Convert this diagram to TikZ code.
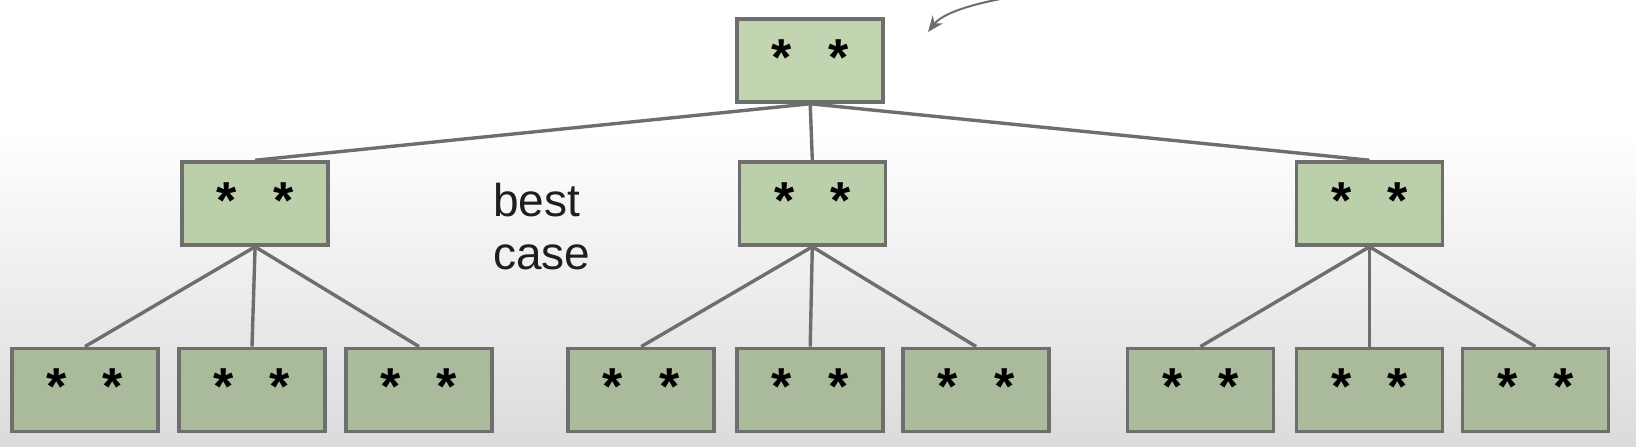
\documentclass[tikz,border=0pt]{standalone}
\usepackage{fontspec}
\setmainfont{Liberation Sans}
\usetikzlibrary{arrows.meta}
\definecolor{bgbot}{HTML}{DBDBDB}
\definecolor{edgegray}{HTML}{6E6E6E}
\definecolor{toptone}{HTML}{C2D5B0}
\definecolor{midtone}{HTML}{BCCFAB}
\definecolor{lowtone}{HTML}{AABB9B}
\definecolor{labelgray}{HTML}{1E1E1E}
\begin{document}
\begin{tikzpicture}[x=0.5pt,y=-0.5pt,
  keybox/.style={draw=edgegray, line width=1.75pt, minimum width=73pt, minimum height=41.5pt,
    inner sep=0pt, font=\fontsize{26}{26}\selectfont\bfseries, text height=14.5pt, text depth=0pt},
  link/.style={draw=edgegray, line width=1.7pt},
  pointer/.style={draw=edgegray, line width=1pt, -{Stealth[length=8pt,width=6.5pt]}}]
\useasboundingbox (0,0) rectangle (1636,446);
\fill[white] (0,0) rectangle (1636,446);
\shade[top color=white, bottom color=bgbot] (0,130) rectangle (1636,446);
% root
\node[keybox, fill=toptone] (root) at (810.2,60.5) {*\hspace{18pt}*};
% level 2
\node[keybox, fill=midtone] (m1) at (255.1,203.5) {*\hspace{18pt}*};
\node[keybox, fill=midtone] (m2) at (812.3,203.5) {*\hspace{18pt}*};
\node[keybox, fill=midtone] (m3) at (1369.5,203.5) {*\hspace{18pt}*};
% level 3
\node[keybox, fill=lowtone] (l1) at (85,389.8) {*\hspace{18pt}*};
\node[keybox, fill=lowtone] (l2) at (252,389.8) {*\hspace{18pt}*};
\node[keybox, fill=lowtone] (l3) at (419,389.8) {*\hspace{18pt}*};
\node[keybox, fill=lowtone] (l4) at (641.2,389.8) {*\hspace{18pt}*};
\node[keybox, fill=lowtone] (l5) at (810.2,389.8) {*\hspace{18pt}*};
\node[keybox, fill=lowtone] (l6) at (976.1,389.8) {*\hspace{18pt}*};
\node[keybox, fill=lowtone] (l7) at (1200.4,389.8) {*\hspace{18pt}*};
\node[keybox, fill=lowtone] (l8) at (1369.5,389.8) {*\hspace{18pt}*};
\node[keybox, fill=lowtone] (l9) at (1535.4,389.8) {*\hspace{18pt}*};
% connectors
\draw[link] (root.south) -- (m1.north);
\draw[link] (root.south) -- (m2.north);
\draw[link] (root.south) -- (m3.north);
\draw[link] (m1.south) -- (l1.north);
\draw[link] (m1.south) -- (l2.north);
\draw[link] (m1.south) -- (l3.north);
\draw[link] (m2.south) -- (l4.north);
\draw[link] (m2.south) -- (l5.north);
\draw[link] (m2.south) -- (l6.north);
\draw[link] (m3.south) -- (l7.north);
\draw[link] (m3.south) -- (l8.north);
\draw[link] (m3.south) -- (l9.north);
% label
\node[anchor=north west, inner sep=0pt, align=left, text=labelgray,
  font=\fontsize{23}{26.5}\selectfont] (note) at (493,182.5) {best\\case};
% pointer arrow
\coordinate (arrowstart) at (1070,-10);
\coordinate (arrowtip) at (928,32);
\draw[pointer] (arrowstart) .. controls (995,-4) and (945,10) .. (arrowtip);
\end{tikzpicture}
\end{document}
